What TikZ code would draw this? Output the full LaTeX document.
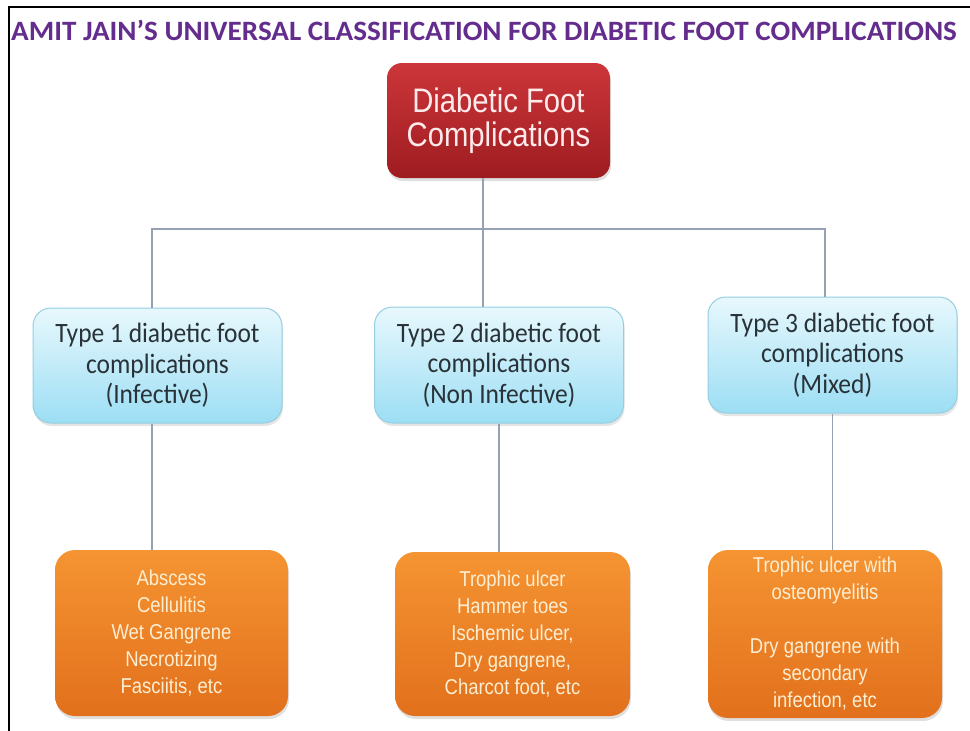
\documentclass[tikz,border=0pt]{standalone}
\usepackage{fontspec}
\setmainfont{Liberation Sans}
\newfontfamily\calibrifont[FakeStretch=0.91]{Carlito}
\newfontfamily\titlefont[FakeStretch=1.04]{Carlito}
\newfontfamily\arialfont[FakeStretch=0.86]{Liberation Sans}
\usetikzlibrary{positioning,shadows}

\definecolor{titlepurple}{RGB}{100,44,140}
\definecolor{redtop}{RGB}{204,54,58}
\definecolor{redbottom}{RGB}{158,28,32}
\definecolor{bluetop}{RGB}{232,248,253}
\definecolor{bluebottom}{RGB}{156,222,244}
\definecolor{blueborder}{RGB}{150,206,224}
\definecolor{orangetop}{RGB}{245,148,50}
\definecolor{orangebottom}{RGB}{226,112,28}
\definecolor{linkgray}{RGB}{150,162,180}

\tikzstyle{rootbox}=[rectangle, rounded corners=15pt, top color=redtop, bottom color=redbottom,
        drop shadow={opacity=0.25, shadow xshift=1pt, shadow yshift=-3pt},
        text=white!92!red, align=center, inner sep=0pt,
        font=\arialfont\fontsize{34}{34}\selectfont]
\tikzstyle{typebox}=[rectangle, rounded corners=18pt, draw=blueborder, line width=1pt,
        top color=bluetop, bottom color=bluebottom,
        drop shadow={opacity=0.2, shadow xshift=1pt, shadow yshift=-3pt},
        text={rgb,255:red,40;green,50;blue,56}, align=center, inner sep=0pt,
        minimum width=249pt, minimum height=115pt,
        font=\calibrifont\fontsize{28}{30.5}\selectfont]
\tikzstyle{listbox}=[rectangle, rounded corners=20pt, top color=orangetop, bottom color=orangebottom,
        drop shadow={opacity=0.25, shadow xshift=1pt, shadow yshift=-3pt},
        text={rgb,255:red,253;green,238;blue,210}, align=center, inner sep=0pt,
        minimum width=234pt, minimum height=166pt,
        font=\arialfont\fontsize{21.5}{27}\selectfont]
\tikzstyle{myline}=[draw=linkgray, line width=1.6pt]

\begin{document}
\begin{tikzpicture}[x=1pt, y=-1pt]
	\useasboundingbox[fill=white] (0,0) rectangle (970,731);
	\draw[line width=1.5pt] (9,731) -- (9,7) -- (970,7);

	\node (Title) [anchor=base, text=titlepurple] at (484,40)
		{\titlefont\bfseries\fontsize{28}{28}\selectfont AMIT JAIN’S UNIVERSAL CLASSIFICATION FOR DIABETIC FOOT COMPLICATIONS};

	\node (FootComplications) [rootbox, minimum width=223pt, minimum height=115pt] at (498.5,120.5)
		{
			Diabetic Foot\\
			Complications
		};

	\node (TypeOne) [typebox] at (157.5,365.5)
		{
			Type 1 diabetic foot\\
			complications\\
			(Infective)
		};
	\node (TypeTwo) [typebox, minimum height=116pt] at (499,365)
		{
			Type 2 diabetic foot\\
			complications\\
			(Non Infective)
		};
	\node (TypeThree) [typebox, minimum height=116pt] at (832.5,355)
		{
			Type 3 diabetic foot\\
			complications\\
			(Mixed)
		};

	\node (Infective) [listbox, minimum width=233pt] at (171.5,633)
		{
			Abscess\\
			Cellulitis\\
			Wet Gangrene\\
			Necrotizing\\
			Fasciitis, etc
		};
	\node (NonInfective) [listbox, minimum width=235pt, minimum height=164pt] at (512.5,634)
		{
			Trophic ulcer\\
			Hammer toes\\
			Ischemic ulcer,\\
			Dry gangrene,\\
			Charcot foot, etc
		};
	\node (Mixed) [listbox, minimum height=168pt] at (825,634)
		{
			Trophic ulcer with\\
			osteomyelitis\\[27pt]
			Dry gangrene with\\
			secondary\\
			infection, etc
		};

	\coordinate (Bus) at ([xshift=-15.5pt, yshift=-51pt]FootComplications.south);

\draw[myline] ([xshift=-15.5pt]FootComplications.south) -- (TypeTwo.north -| Bus);
\draw[myline] ([xshift=-5.5pt]TypeOne.north) |- (Bus) -| ([xshift=-7.5pt]TypeThree.north);
\draw[myline] ([xshift=-5.5pt]TypeOne.south) -- ([xshift=-5.5pt]TypeOne.south |- Infective.north);
\draw[myline] (TypeTwo.south) -- (TypeTwo.south |- NonInfective.north);
\draw[myline] (TypeThree.south) -- (TypeThree.south |- Mixed.north);
\end{tikzpicture}
\end{document}
